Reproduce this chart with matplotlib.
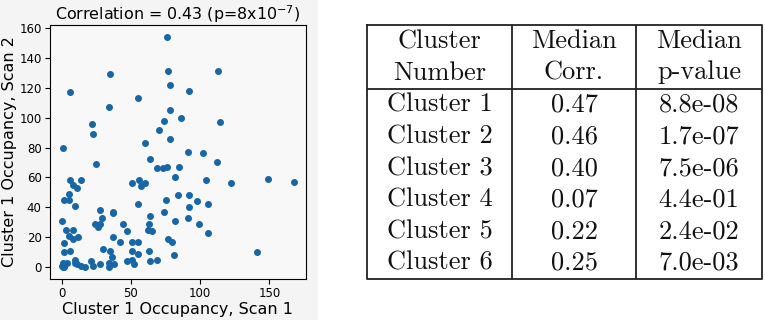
import numpy as np
import matplotlib
matplotlib.use('Agg')
import matplotlib.pyplot as plt
from matplotlib.patches import Rectangle

# scatter data
scan1 = [76, 77, 113, 35, 78, 92, 6, 55, 34, 78, 74, 114, 86, 22, 23, 70, 78, 60, 1, 91,
         102, 64, 112, 25, 85, 76, 69, 73, 82, 149, 168, 104, 122, 56, 51, 60, 57, 6, 14, 8,
         11, 5, 2, 5, 10, 28, 37, 37, 29, 24, 28, 26, 44, 47, 42, 37, 55, 75, 74, 64,
         63, 62, 65, 92, 84, 98, 106, 92, 91, 82, 99, 106, 77, 80, 81, 141,
         0, 3, 8, 5, 8, 12, 2, 30, 2, 6, 35, 36, 38, 34, 34, 28, 23, 21, 17, 14,
         11, 10, 10, 4, 1, 0, 1, 2, 47, 51, 52, 51, 55, 51, 55, 63, 64, 69]
scan2 = [154, 131, 131, 129, 122, 118, 117, 113, 107, 105, 98, 97, 100, 96, 89, 92, 86, 83, 80, 77,
         76, 72, 70, 69, 67, 67, 66, 66, 60, 59, 57, 58, 56, 58, 56, 56, 54, 58, 58, 55,
         53, 49, 45, 45, 41, 38, 37, 36, 33, 29, 29, 27, 29, 24, 17, 20, 42, 45, 37, 34,
         29, 25, 24, 48, 48, 44, 42, 40, 33, 31, 29, 23, 19, 17, 8, 10,
         31, 25, 25, 21, 19, 20, 16, 12, 10, 11, 11, 7, 2, 3, 0, 2, 1, 4, 0, 1,
         2, 3, 5, 3, 3, 1, 0, 0, 4, 5, 2, 11, 9, 17, 17, 11, 4, 5]

# table contents
clusters = ['Cluster 1', 'Cluster 2', 'Cluster 3', 'Cluster 4', 'Cluster 5', 'Cluster 6']
median_corr = ['0.47', '0.46', '0.40', '0.07', '0.22', '0.25']
median_p = ['8.8e-08', '1.7e-07', '7.5e-06', '4.4e-01', '2.4e-02', '7.0e-03']
headers = [('Cluster', 'Number'), ('Median', 'Corr.'), ('Median', 'p-value')]

W, H = 765, 320
fig = plt.figure(figsize=(W / 100, H / 100), dpi=100)
fig.patch.set_facecolor('white')
fig.patches.append(Rectangle((0, 0), 318 / W, 1, transform=fig.transFigure,
                             facecolor='#f4f4f4', edgecolor='none', zorder=-5))

# scatter panel
ax = fig.add_axes([50 / W, 1 - 279 / H, 256 / W, 254 / H])
ax.set_facecolor('#f8f8f8')
ax.scatter(scan1, scan2, s=16, color='#1767a8', zorder=3)
ax.set_xticks([0, 50, 100, 150])
ax.set_yticks(np.arange(0, 161, 20))
ax.tick_params(labelsize=8.5, length=3.5, width=0.8, pad=2.5)
ax.set_xlabel('Cluster 1 Occupancy, Scan 1', fontsize=11.5, labelpad=1)
ax.set_ylabel('Cluster 1 Occupancy, Scan 2', fontsize=11.5, labelpad=2)
ax.set_title('Correlation = 0.43 (p=8x10$^{-7}$)', fontsize=11.4, pad=3)

# table panel
tx0, tx1, ty0, ty1 = 367, 762, 25, 279
tab = fig.add_axes([tx0 / W, 1 - ty1 / H, (tx1 - tx0) / W, (ty1 - ty0) / H])
tab.set_xlim(tx0, tx1)
tab.set_ylim(ty1, ty0)
tab.axis('off')
lw = 1.3
tab.plot([tx0, tx1, tx1, tx0, tx0], [ty0, ty0, ty1, ty1, ty0], color='#222222', lw=lw, clip_on=False)
for xc in [512, 636]:
    tab.plot([xc, xc], [ty0, ty1], color='#222222', lw=lw)
tab.plot([tx0, tx1], [89, 89], color='#222222', lw=lw)

col_x = [439.5, 574, 699]
tfont = dict(family='cmr10', fontsize=19, ha='center', va='baseline', color='#111111')
for cx, (h1, h2) in zip(col_x, headers):
    tab.text(cx, 48.5, h1, **tfont)
    tab.text(cx, 79.5, h2, **tfont)
row_y = [111.7, 143.3, 175, 206.7, 238.3, 270]
for i, ry in enumerate(row_y):
    tab.text(col_x[0], ry, clusters[i], **tfont)
    tab.text(col_x[1], ry, median_corr[i], **tfont)
    tab.text(col_x[2], ry, median_p[i], **tfont)

fig.savefig('out.png', dpi=100)
